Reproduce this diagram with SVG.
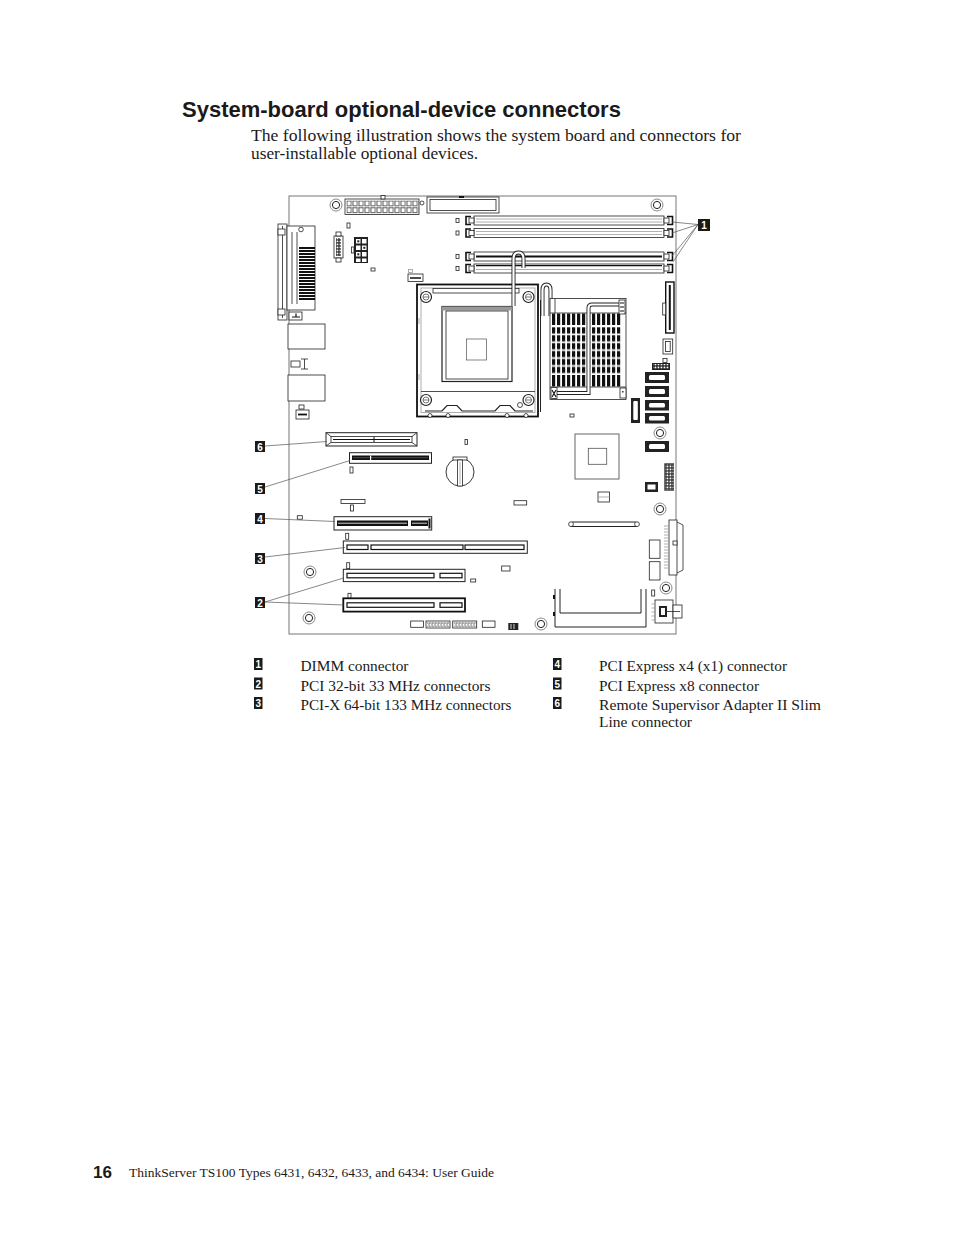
<svg xmlns="http://www.w3.org/2000/svg" width="954" height="1235" viewBox="0 0 954 1235">
<style>
.o{fill:none;stroke:#222;stroke-width:0.8}
.w{fill:#fff;stroke:#222;stroke-width:0.8}
.wb{fill:#fff;stroke:#111;stroke-width:1.4}
.kb{fill:none;stroke:#111;stroke-width:1.6}
.k{fill:#1a1a1a}
.g{fill:none;stroke:#9a9a9a;stroke-width:0.8}
.ld{fill:none;stroke:#555;stroke-width:0.7}
.pipeo{fill:none;stroke:#222;stroke-width:4}
.pipei{fill:none;stroke:#fff;stroke-width:2.2}
.ln{font-family:"Liberation Sans",Arial,sans-serif;font-weight:bold;font-size:10px;fill:#fff;text-anchor:middle}
.title{font-family:"Liberation Sans",Arial,sans-serif;font-weight:bold;font-size:22px;fill:#1a1a1a}
.body{font-family:"Liberation Serif","Times New Roman",serif;font-size:16.5px;fill:#1a1a1a}
.leg{font-family:"Liberation Serif","Times New Roman",serif;font-size:15.3px;fill:#1a1a1a}
</style>
<defs>
<g id="hole"><circle r="6" fill="#fff" stroke="#8a8a8a" stroke-width="1"/><circle r="3.6" fill="none" stroke="#222" stroke-width="1"/></g>
<g id="screw"><circle r="5.5" fill="#fff" stroke="#222" stroke-width="1.2"/><circle r="3" fill="none" stroke="#555" stroke-width="0.8"/><line x1="-3" y1="0" x2="3" y2="0" stroke="#555" stroke-width="0.8"/></g>
<pattern id="atx" patternUnits="userSpaceOnUse" x="346.5" y="200.5" width="6" height="6.8"><rect x="0.5" y="0.5" width="4.3" height="4.8" fill="#fff" stroke="#222" stroke-width="0.7"/></pattern>
<pattern id="comb" patternUnits="userSpaceOnUse" x="299" y="247" width="16" height="3"><rect width="16" height="2" fill="#111"/></pattern>
<pattern id="finsT" patternUnits="userSpaceOnUse" x="552" y="0" width="5" height="20"><rect width="3.2" height="20" fill="#111"/></pattern>
<pattern id="finsM" patternUnits="userSpaceOnUse" x="552" y="326" width="5" height="7.9"><rect y="1.3" width="3.2" height="6.2" fill="#111"/></pattern>
<pattern id="pins" patternUnits="userSpaceOnUse" width="3" height="3"><rect x="0.6" y="0.6" width="1.7" height="1.7" fill="#fff"/></pattern>
<pattern id="pinsl" patternUnits="userSpaceOnUse" width="3" height="3.5"><rect x="0.5" y="0.5" width="2" height="2.4" fill="none" stroke="#777" stroke-width="0.5"/></pattern>
</defs>

<text class="title" x="182" y="117">System-board optional-device connectors</text>
<text class="body" x="251" y="141" textLength="490" lengthAdjust="spacingAndGlyphs">The following illustration shows the system board and connectors for</text>
<text class="body" x="251" y="159" textLength="227" lengthAdjust="spacingAndGlyphs">user-installable optional devices.</text>

<g id="board-outline"><rect x="289" y="196" width="387" height="438" fill="#fff" stroke="#777" stroke-width="1"/></g>

<g id="parallel-port">
<rect class="w" x="278" y="224" width="9" height="96"/>
<line class="o" x1="282.5" y1="226" x2="282.5" y2="318"/>
<rect class="w" x="278" y="229" width="7" height="6"/>
<rect class="w" x="278" y="309" width="7" height="6"/>
<rect class="w" x="287" y="226" width="28" height="84"/>
<line class="o" x1="292" y1="232" x2="292" y2="304"/>
<line class="o" x1="297" y1="232" x2="297" y2="304"/>
<circle class="w" cx="301" cy="229.5" r="2.3"/>
<rect x="299" y="247" width="16" height="54" fill="url(#comb)"/>
<rect class="w" x="289" y="312" width="13" height="8"/>
<path class="kb" d="M292,317 H300 M296,313.5 V317" style="stroke-width:1.2"/>
</g>

<g id="rear-ports">
<rect class="w" x="288" y="324" width="37" height="25"/>
<rect class="w" x="291" y="361" width="9" height="6"/>
<path class="o" d="M301,359 H308 M301,369 H308 M304.5,359 V369"/>
<rect class="w" x="288" y="375" width="37" height="26"/>
<rect class="w" x="299" y="405" width="5" height="4"/>
<rect class="w" x="296" y="410" width="13" height="9"/>
<line x1="298" y1="414.5" x2="307" y2="414.5" stroke="#111" stroke-width="1.8"/>
</g>

<g id="top-left-headers">
<rect x="334" y="236" width="9" height="22" class="w"/>
<rect class="w" x="336" y="232" width="5" height="4"/>
<rect class="w" x="336" y="258" width="5" height="4"/>
<rect x="336" y="238" width="5" height="18" fill="#333"/>
<rect x="336" y="238" width="5" height="18" fill="url(#pins)"/>
<rect class="w" x="347" y="223" width="3" height="5"/>
<rect x="354" y="237" width="14" height="26" fill="#222"/>
<rect x="356" y="239" width="4.5" height="4.5" fill="#fff"/><rect x="362" y="239" width="4.5" height="4.5" fill="#fff"/>
<rect x="356" y="245.5" width="4.5" height="4.5" fill="#fff"/><rect x="362" y="245.5" width="4.5" height="4.5" fill="#fff"/>
<rect x="356" y="252" width="4.5" height="4.5" fill="#fff"/><rect x="362" y="252" width="4.5" height="4.5" fill="#fff"/>
<rect x="356" y="258.5" width="4.5" height="3.5" fill="#fff"/><rect x="362" y="258.5" width="4.5" height="3.5" fill="#fff"/>
<rect x="357.3" y="240.3" width="2" height="2" fill="#222"/><rect x="363.3" y="246.8" width="2" height="2" fill="#222"/><rect x="357.3" y="253.3" width="2" height="2" fill="#222"/>
<rect class="w" x="351.5" y="247" width="2.5" height="6"/>
<rect class="w" x="371" y="268" width="4" height="3"/>
<rect class="w" x="408" y="274" width="15" height="7.5"/>
<line x1="410" y1="278" x2="421" y2="278" stroke="#111" stroke-width="1.5"/>
<rect class="g" x="408.5" y="269.5" width="4" height="3"/>
</g>

<g id="atx-power">
<rect class="w" x="345" y="199" width="74" height="15.5"/>
<rect x="346.5" y="200.5" width="72" height="13.6" fill="url(#atx)"/>
<rect class="w" x="381" y="195.5" width="4" height="3.5"/>
<circle class="w" cx="422" cy="203" r="2"/>
</g>

<g id="top-connector">
<rect class="w" x="427" y="197" width="72" height="16"/>
<rect class="o" x="430" y="199.5" width="66" height="11"/>
<rect x="459" y="196" width="5" height="2" fill="#111"/>
</g>

<g id="dimm-slots">
<g id="dimm-a">
<rect class="w" x="474" y="216" width="190" height="9"/>
<line class="g" x1="476" y1="219" x2="662" y2="219"/><line class="g" x1="476" y1="222" x2="662" y2="222"/>
<path class="kb" d="M471,216.5 H466 V224.5 H471"/><rect class="w" x="469" y="218" width="5" height="5"/>
<path class="kb" d="M667,216.5 H672.5 V224.5 H667"/><rect class="w" x="664" y="218" width="5" height="5"/>
<rect class="w" x="456" y="218.5" width="3" height="4"/>
</g>
<g id="dimm-b">
<rect class="w" x="474" y="228.5" width="190" height="9"/>
<line class="g" x1="476" y1="231.5" x2="662" y2="231.5"/><line class="g" x1="476" y1="234.5" x2="662" y2="234.5"/>
<path class="kb" d="M471,229 H466 V237 H471"/><rect class="w" x="469" y="230.5" width="5" height="5"/>
<path class="kb" d="M667,229 H672.5 V237 H667"/><rect class="w" x="664" y="230.5" width="5" height="5"/>
<rect class="w" x="456" y="231" width="3" height="4"/>
</g>
<g id="dimm-c">
<rect class="w" x="474" y="252" width="190" height="9"/>
<line x1="476" y1="256.5" x2="662" y2="256.5" stroke="#111" stroke-width="2"/>
<path class="kb" d="M471,252.5 H466 V260.5 H471"/><rect class="w" x="469" y="254" width="5" height="5"/>
<path class="kb" d="M667,252.5 H672.5 V260.5 H667"/><rect class="w" x="664" y="254" width="5" height="5"/>
<rect class="w" x="456" y="254.5" width="3" height="4"/>
</g>
<g id="dimm-d">
<rect class="w" x="474" y="264" width="190" height="9"/>
<line x1="476" y1="265.6" x2="662" y2="265.6" stroke="#111" stroke-width="1.2"/>
<line class="g" x1="476" y1="269.5" x2="662" y2="269.5"/>
<path class="kb" d="M471,264.5 H466 V272.5 H471"/><rect class="w" x="469" y="266" width="5" height="5"/>
<path class="kb" d="M667,264.5 H672.5 V272.5 H667"/><rect class="w" x="664" y="266" width="5" height="5"/>
<rect class="w" x="456" y="266.5" width="3" height="4"/>
</g>
</g>

<g id="mounting-holes">
<use href="#hole" x="336" y="205"/>
<use href="#hole" x="657" y="205"/>
<use href="#hole" x="660" y="433"/>
<use href="#hole" x="660" y="509"/>
<use href="#hole" x="310" y="572"/>
<use href="#hole" x="309" y="618"/>
<use href="#hole" x="541" y="624"/>
<use href="#hole" x="666" y="588"/>
</g>

<g id="cpu-socket">
<rect x="417" y="284.5" width="121" height="132" fill="#fff" stroke="#111" stroke-width="1.8"/>
<rect class="g" x="421" y="288" width="114" height="124.5"/>
<rect class="w" x="433" y="288.5" width="86" height="4.5"/>
<line class="o" x1="421" y1="391.5" x2="535" y2="391.5"/>
<line class="g" x1="419" y1="318" x2="419" y2="324"/><line class="g" x1="419" y1="374" x2="419" y2="380"/>
<rect x="442" y="306.5" width="70" height="75" fill="#fff" stroke="#222" stroke-width="1.2"/>
<rect x="442" y="306.5" width="70" height="4" fill="#999"/>
<rect class="o" x="446" y="311" width="62" height="68"/>
<rect x="466.5" y="339" width="20" height="21" fill="none" stroke="#666" stroke-width="0.8"/>
<use href="#screw" x="426" y="297"/>
<use href="#screw" x="528.5" y="297"/>
<use href="#screw" x="426" y="400"/>
<use href="#screw" x="528.5" y="400"/>
<path d="M425,411 H442 L447,405.5 H457 L462,411 H495 L500,405.5 H510 L515,411 H533" fill="none" stroke="#222" stroke-width="1.2"/>
<circle class="w" cx="520" cy="405" r="2.5"/>
<circle class="w" cx="430" cy="415.5" r="2"/><circle class="w" cx="448" cy="415.5" r="2"/><circle class="w" cx="507" cy="415.5" r="2"/><circle class="w" cx="526" cy="415.5" r="2"/>
<path class="pipeo" d="M513.5,306 V259 Q513.5,252.5 518.5,252.5 Q523.5,252.5 523.5,259 V268"/>
<path class="pipei" d="M513.5,306 V259 Q513.5,252.5 518.5,252.5 Q523.5,252.5 523.5,259 V268"/>
<line x1="540.5" y1="300" x2="540.5" y2="412" stroke="#222" stroke-width="1"/>
<path class="pipeo" d="M542.5,316 V290 Q542.5,284.5 546.5,284.5 Q550.5,284.5 550.5,290 V316"/>
<path class="pipei" d="M542.5,316 V290 Q542.5,284.5 546.5,284.5 Q550.5,284.5 550.5,290 V316"/>
</g>

<g id="heatsink">
<rect class="w" x="550" y="298.5" width="76" height="101"/>
<line class="o" x1="550" y1="313" x2="626" y2="313"/>
<line class="o" x1="550" y1="387" x2="626" y2="387"/>
<line class="o" x1="555" y1="299" x2="555" y2="313"/>
<rect x="552" y="313.5" width="35" height="11.5" fill="url(#finsT)"/>
<rect x="552" y="326" width="35" height="48" fill="url(#finsM)"/>
<rect x="552" y="375" width="35" height="11.5" fill="url(#finsT)"/>
<rect x="591" y="313.5" width="31" height="11.5" fill="url(#finsT)"/>
<rect x="591" y="326" width="31" height="48" fill="url(#finsM)"/>
<rect x="591" y="375" width="31" height="11.5" fill="url(#finsT)"/>
<path class="pipeo" d="M552,393 H588.5 V308 Q588.5,304.5 592,304.5 H620"/>
<path class="pipei" d="M552,393 H588.5 V308 Q588.5,304.5 592,304.5 H620"/>
<rect class="w" x="619" y="300" width="6" height="14"/>
<path class="kb" d="M620,303 H624 M620,307 H624 M620,311 H624" style="stroke-width:1.2"/>
<rect class="w" x="551" y="387.5" width="6" height="11"/>
<path class="kb" d="M552,390 L556,397 M556,390 L552,397" style="stroke-width:1.1"/>
<rect class="w" x="620" y="388" width="6" height="10"/>
<rect x="622" y="391" width="1.5" height="1.5" fill="#333"/>
</g>

<g id="right-edge-connectors">
<rect x="665.7" y="282" width="8.3" height="51" fill="#fff" stroke="#111" stroke-width="1.4"/>
<line x1="669.8" y1="285" x2="669.8" y2="330" stroke="#111" stroke-width="2"/>
<rect class="w" x="662.7" y="303" width="3" height="12"/>
<rect class="w" x="663" y="339" width="9.7" height="15"/>
<rect class="o" x="665.5" y="341.5" width="4.7" height="10"/>
<rect class="w" x="663" y="358.5" width="4" height="4"/>
<rect x="652" y="363" width="18" height="7" fill="#222"/>
<rect x="653" y="364" width="16" height="5" fill="url(#pins)"/>
<g id="sata-1"><rect x="645" y="372" width="24" height="11" fill="#222"/><rect x="649" y="375" width="16" height="5" rx="1.5" fill="#fff"/></g>
<g id="sata-2"><rect x="645" y="386" width="24" height="11" fill="#222"/><rect x="649" y="389" width="16" height="5" rx="1.5" fill="#fff"/></g>
<g id="sata-3"><rect x="645" y="400" width="24" height="10.5" fill="#222"/><rect x="649" y="403" width="16" height="4.5" rx="1.5" fill="#fff"/></g>
<g id="sata-4"><rect x="645" y="413" width="24" height="10.5" fill="#222"/><rect x="649" y="416" width="16" height="4.5" rx="1.5" fill="#fff"/></g>
<g id="sata-5"><rect x="645" y="441" width="24" height="11" fill="#222"/><rect x="649" y="444" width="16" height="5" rx="1.5" fill="#fff"/></g>
<rect x="631" y="398" width="9" height="25" fill="#222"/>
<rect x="633.3" y="401" width="4.5" height="19" rx="1" fill="#fff"/>
<rect x="645" y="482" width="13" height="10" fill="#222"/>
<rect x="647.5" y="484.5" width="8" height="5" fill="#fff"/>
<rect x="664.3" y="463.3" width="9.7" height="27.4" fill="#333"/>
<rect x="665" y="464" width="8.5" height="26" fill="url(#pins)"/>
</g>

<g id="chipset">
<rect x="575" y="434" width="44" height="45" fill="#fff" stroke="#555" stroke-width="0.9"/>
<rect x="588.3" y="448.3" width="18.4" height="16" fill="none" stroke="#555" stroke-width="0.8"/>
</g>

<g id="board-small-parts">
<rect class="w" x="570" y="414" width="4" height="3"/>
<rect class="w" x="598" y="492" width="11.5" height="10"/>
<line class="g" x1="598" y1="497" x2="609.5" y2="497"/>
<rect class="w" x="465" y="439.5" width="2.5" height="5"/>
<rect class="w" x="350" y="467" width="3" height="6"/>
<rect class="w" x="341" y="499.5" width="24" height="4"/>
<rect class="w" x="350.5" y="505" width="3" height="6"/>
<rect class="w" x="514" y="500.7" width="12.7" height="4.3"/>
<rect class="w" x="297.3" y="515.7" width="5" height="3.5"/>
<rect class="w" x="345.7" y="533.3" width="3" height="6"/>
<rect class="w" x="346.7" y="562.7" width="3" height="6"/>
<rect class="w" x="501.7" y="566" width="8.3" height="5"/>
<rect class="w" x="470.7" y="579" width="5" height="3"/>
<rect class="w" x="348" y="593.3" width="3" height="5"/>
<rect class="w" x="410.7" y="621" width="12.7" height="6.3"/>
<rect class="w" x="426" y="621" width="24" height="7"/>
<rect x="427" y="622" width="22" height="5" fill="url(#pinsl)"/>
<rect class="w" x="452.7" y="621" width="24" height="7"/>
<rect x="453.7" y="622" width="22" height="5" fill="url(#pinsl)"/>
<rect class="w" x="482.3" y="621" width="12.7" height="6.3"/>
<rect x="508.3" y="623" width="10" height="7" fill="#222"/>
<path d="M511,624 V629 M514,624 V629" stroke="#fff" stroke-width="0.8"/>
<rect class="w" x="651.7" y="590" width="3" height="6"/>
</g>

<g id="battery">
<circle cx="460" cy="472" r="14" fill="#fff" stroke="#222" stroke-width="0.9"/>
<rect class="w" x="453" y="457" width="14" height="3"/>
<rect class="w" x="457.5" y="460" width="5" height="26"/>
<line class="g" x1="460" y1="462" x2="460" y2="484"/>
</g>

<g id="slot-rsa">
<rect x="326" y="432.7" width="91" height="13.3" fill="#fff" stroke="#222" stroke-width="1"/>
<rect class="o" x="331" y="436.5" width="81" height="6"/>
<path class="o" d="M326,432.7 L331,436.5 M417,432.7 L412,436.5 M326,446 L331,442.5 M417,446 L412,442.5"/>
<line x1="333" y1="439.5" x2="410" y2="439.5" stroke="#111" stroke-width="1.2"/>
<line x1="374" y1="437" x2="374" y2="442" stroke="#111" stroke-width="1"/>
</g>

<g id="slot-pcie-x8">
<rect x="349.5" y="452.7" width="82" height="10.6" fill="#fff" stroke="#222" stroke-width="1"/>
<rect x="352" y="455.5" width="77" height="4.5" fill="#111"/>
<line x1="353" y1="457.7" x2="428" y2="457.7" stroke="#777" stroke-width="0.6"/>
<rect x="370" y="455.5" width="1.2" height="4.5" fill="#fff"/>
</g>

<g id="slot-pcie-x4">
<rect x="334" y="516.7" width="97.7" height="13.3" fill="#fff" stroke="#222" stroke-width="1"/>
<rect x="337" y="520.5" width="71" height="5.5" fill="#111"/>
<line x1="338" y1="523.2" x2="407" y2="523.2" stroke="#fff" stroke-width="0.8"/>
<rect x="411" y="520.5" width="17" height="5.5" fill="#111"/>
<line x1="412" y1="523.2" x2="427" y2="523.2" stroke="#fff" stroke-width="0.8"/>
<rect x="428.5" y="518.5" width="2" height="10" fill="#111"/>
</g>

<g id="slot-pcix">
<rect x="343.3" y="541" width="184" height="12.3" fill="#fff" stroke="#222" stroke-width="1"/>
<rect x="347" y="545" width="21" height="4.5" fill="#fff" stroke="#111" stroke-width="1.2"/>
<rect x="371" y="545" width="92" height="4.5" fill="#fff" stroke="#111" stroke-width="1.2"/>
<rect x="465" y="545" width="59" height="4.5" fill="#fff" stroke="#111" stroke-width="1.2"/>
</g>

<g id="slot-pci-a">
<rect x="343.3" y="569.3" width="121.7" height="12.3" fill="#fff" stroke="#222" stroke-width="1"/>
<rect x="347" y="573.3" width="87" height="4.5" fill="#fff" stroke="#111" stroke-width="1.2"/>
<rect x="440" y="573.3" width="22" height="4.5" fill="#fff" stroke="#111" stroke-width="1.2"/>
</g>

<g id="slot-pci-b">
<rect x="343.3" y="598.3" width="121.7" height="13.3" fill="#fff" stroke="#111" stroke-width="1.8"/>
<rect x="347" y="602.8" width="87" height="4.5" fill="#fff" stroke="#111" stroke-width="1.2"/>
<rect x="440" y="602.8" width="22" height="4.5" fill="#fff" stroke="#111" stroke-width="1.2"/>
</g>

<g id="bottom-right-parts">
<rect x="571" y="522" width="66" height="4.5" rx="2" fill="#fff" stroke="#222" stroke-width="1.1"/>
<circle class="w" cx="571" cy="524.2" r="2.4"/>
<circle class="w" cx="637" cy="524.2" r="2.4"/>
<rect class="w" x="669" y="520" width="8" height="55"/>
<path class="o" d="M677,522 L683,525 V570 L677,573"/>
<path class="g" d="M669,526 H664 M669,529 H664 M669,532 H664 M669,535 H664 M669,538 H664 M669,541 H664 M669,544 H664 M669,547 H664 M669,550 H664 M669,553 H664 M669,556 H664 M669,559 H664 M669,562 H664 M669,565 H664 M669,568 H664"/>
<rect class="w" x="673" y="541" width="4" height="4"/>
<rect class="w" x="649.3" y="540" width="10.7" height="18.3"/>
<rect class="w" x="649.3" y="561.7" width="10.7" height="18.3"/>
<path d="M555,589 V627 H646 V589" fill="none" stroke="#222" stroke-width="1"/>
<path d="M560,589 V613 H641 V589" fill="none" stroke="#222" stroke-width="1"/>
<rect x="553" y="595" width="2" height="4" fill="#111"/>
<rect x="553" y="612" width="2" height="4" fill="#111"/>
<rect class="w" x="655" y="600" width="18" height="23"/>
<rect x="659" y="606" width="8" height="11" fill="#222"/>
<rect x="661" y="608" width="4" height="7" fill="#fff"/>
<rect class="w" x="673" y="605" width="9" height="13"/>
<line class="o" x1="667" y1="611.5" x2="680" y2="611.5"/>
<path class="g" d="M655,604 H651.5 M655,608 H651.5 M655,612 H651.5 M655,616 H651.5 M655,620 H651.5"/>
</g>

<g id="connectors">
<line class="ld" x1="698" y1="224.5" x2="672" y2="222"/>
<line class="ld" x1="698" y1="224.5" x2="672" y2="233"/>
<line class="ld" x1="698" y1="224.5" x2="672" y2="256"/>
<line class="ld" x1="698" y1="224.5" x2="673" y2="262"/>
<line class="ld" x1="265" y1="446" x2="327" y2="441.5"/>
<line class="ld" x1="265" y1="487" x2="350" y2="460.5"/>
<line class="ld" x1="265" y1="518.5" x2="335" y2="521.5"/>
<line class="ld" x1="265" y1="557" x2="345" y2="547.5"/>
<line class="ld" x1="265" y1="602" x2="343.5" y2="578"/>
<line class="ld" x1="265" y1="602" x2="343.5" y2="605"/>
</g>

<g id="label-1"><rect x="698" y="219" width="12" height="12" fill="#1a1a1a"/><text class="ln" x="704" y="229">1</text></g>
<g id="label-6"><rect x="255" y="441" width="10" height="11" fill="#1a1a1a"/><text class="ln" x="260" y="450.5">6</text></g>
<g id="label-5"><rect x="255" y="483" width="10" height="11" fill="#1a1a1a"/><text class="ln" x="260" y="492.5">5</text></g>
<g id="label-4"><rect x="255" y="513" width="10" height="11" fill="#1a1a1a"/><text class="ln" x="260" y="522.5">4</text></g>
<g id="label-3"><rect x="255" y="553" width="10" height="11" fill="#1a1a1a"/><text class="ln" x="260" y="562.5">3</text></g>
<g id="label-2"><rect x="255" y="597" width="10" height="11" fill="#1a1a1a"/><text class="ln" x="260" y="606.5">2</text></g>

<g id="legend">
<rect x="254" y="658" width="8.5" height="12" fill="#1a1a1a"/><text class="ln" x="258.3" y="668">1</text>
<text class="leg" x="300.5" y="671" textLength="108" lengthAdjust="spacingAndGlyphs">DIMM connector</text>
<rect x="254" y="677.5" width="8.5" height="12" fill="#1a1a1a"/><text class="ln" x="258.3" y="687.5">2</text>
<text class="leg" x="300.5" y="690.5" textLength="190" lengthAdjust="spacingAndGlyphs">PCI 32-bit 33 MHz connectors</text>
<rect x="254" y="697" width="8.5" height="12" fill="#1a1a1a"/><text class="ln" x="258.3" y="707">3</text>
<text class="leg" x="300.5" y="710" textLength="211" lengthAdjust="spacingAndGlyphs">PCI-X 64-bit 133 MHz connectors</text>
<rect x="553" y="658" width="8.5" height="12" fill="#1a1a1a"/><text class="ln" x="557.3" y="668">4</text>
<text class="leg" x="599" y="671" textLength="188" lengthAdjust="spacingAndGlyphs">PCI Express x4 (x1) connector</text>
<rect x="553" y="677.5" width="8.5" height="12" fill="#1a1a1a"/><text class="ln" x="557.3" y="687.5">5</text>
<text class="leg" x="599" y="690.5" textLength="160" lengthAdjust="spacingAndGlyphs">PCI Express x8 connector</text>
<rect x="553" y="697" width="8.5" height="12" fill="#1a1a1a"/><text class="ln" x="557.3" y="707">6</text>
<text class="leg" x="599" y="710" textLength="222" lengthAdjust="spacingAndGlyphs">Remote Supervisor Adapter II Slim</text>
<text class="leg" x="599" y="727" textLength="93" lengthAdjust="spacingAndGlyphs">Line connector</text>
</g>

<g id="footer">
<text x="93" y="1178" font-family="Liberation Sans, Arial, sans-serif" font-weight="bold" font-size="17" fill="#1a1a1a">16</text>
<text x="129" y="1177" font-family="Liberation Serif, Times New Roman, serif" font-size="13" fill="#1a1a1a" textLength="365" lengthAdjust="spacingAndGlyphs">ThinkServer TS100 Types 6431, 6432, 6433, and 6434: User Guide</text>
</g>
</svg>
